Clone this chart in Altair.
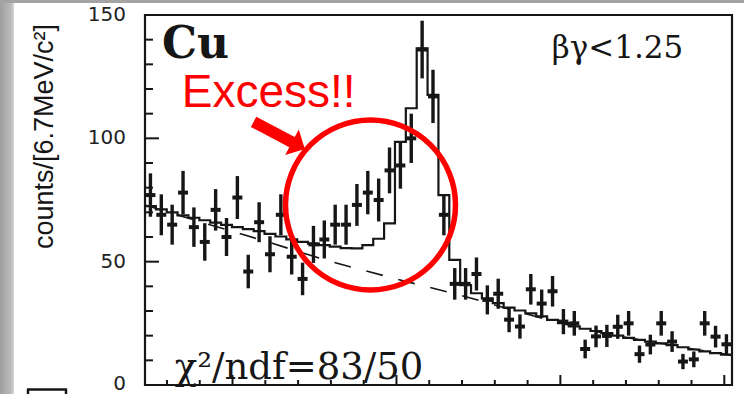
import altair as alt
import pandas as pd

# e+e- invariant mass binning (GeV/c^2)
MASS_LO = 0.8466
MASS_HI = 1.2047
BIN_W = 0.00663

# Observed counts per mass bin and their statistical errors
counts = [77, 69, 65, 78, 64, 58, 71, 60, 76, 46,
          66, 53, 69, 52, 43, 57, 59, 65, 65, 73,
          78, 75, 87, 89, 100, 136, 117, 69, 41, 41,
          45, 34.5, 37, 26.5, 23.7, 38.8, 33, 38, 25.7, 25,
          14.6, 19.7, 19.9, 23.6, 25, 12.5, 16.4, 25, 17.6, 9.5,
          10.4, 25, 19.6, 16.5]
errors = [8.8, 8.3, 8.1, 8.8, 8.0, 7.6, 8.4, 7.7, 8.7, 6.8,
          8.1, 7.3, 8.3, 7.2, 6.6, 7.5, 7.7, 8.1, 8.1, 8.5,
          8.8, 8.7, 9.3, 9.4, 10.0, 11.7, 10.8, 8.3, 6.4, 6.4,
          6.7, 5.9, 6.1, 5.1, 4.9, 6.2, 5.7, 6.2, 5.1, 5.0,
          3.8, 4.4, 4.5, 4.9, 5.0, 3.5, 4.0, 5.0, 4.2, 3.1,
          3.2, 5.0, 4.4, 4.1]

# Fitted expectation per bin (phi shape + background)
fit = [72.5, 71.2, 70, 68.8, 67.8, 66.8, 65.8, 64.9, 64, 63.2,
       62.4, 61.3, 60.2, 59, 58, 57.3, 56.7, 56.1, 55.5, 55.4,
       56.7, 59.3, 65.5, 98.6, 112.2, 136.5, 117.6, 77, 50.7, 40.5,
       37.2, 35.1, 33.2, 31.4, 30.2, 29, 27.8, 26.4, 25.1, 23.8,
       22.8, 21.9, 21, 20, 19.1, 18.3, 17.6, 16.9, 16.2, 15.3,
       14.4, 13.6, 12.9, 12.3]

# Background component of the fit
bg_mass = [0.8466, 0.88, 0.92, 0.96, 1.00, 1.04, 1.08, 1.12, 1.16, 1.2047]
bg_vals = [73, 66.2, 58.3, 50.1, 43, 36.2, 28.7, 21.9, 17, 12]

# Axis ticks (drawn pointing inward) and y tick labels
y_major = [0, 50, 100, 150]
y_minor = [10, 20, 30, 40, 60, 70, 80, 90, 110, 120, 130, 140]
x_major = [0.9, 1.0, 1.1, 1.2]
x_minor = [0.86, 0.88, 0.92, 0.94, 0.96, 0.98, 1.02, 1.04, 1.06, 1.08,
           1.12, 1.14, 1.16, 1.18]
y_label_vals = [50, 100, 150]
y_labels = ["50", "100", "150"]

W, H = 587, 370
INK = "#161616"
RED = "#ff0000"

centers = [MASS_LO + BIN_W * (i + 0.5) for i in range(len(counts))]
pts = pd.DataFrame({
    "m": centers,
    "n": counts,
    "lo": [c - e for c, e in zip(counts, errors)],
    "hi": [c + e for c, e in zip(counts, errors)],
})
edges = [MASS_LO + BIN_W * i for i in range(len(fit) + 1)]
step_df = pd.DataFrame({"m": edges, "f": fit + [fit[-1]]})
bg_df = pd.DataFrame({"m": bg_mass, "b": bg_vals})
one = pd.DataFrame({"k": [0]})

xs = alt.Scale(domain=[MASS_LO, MASS_HI], nice=False, zero=False)
ys = alt.Scale(domain=[0, 150], nice=False, zero=True)

# page decorations: grey strip along the top and grey band at the far left
top_strip = alt.Chart(one).mark_rect(color="#a4a4a4").encode(
    x=alt.value(-145), x2=alt.value(W + 12), y=alt.value(-15), y2=alt.value(-12))
left_band = alt.Chart(one).mark_rect(
    color=alt.LinearGradient(
        gradient="linear",
        stops=[alt.GradientStop(color="#9e9e9e", offset=0),
               alt.GradientStop(color="#bcbcbc", offset=0.8),
               alt.GradientStop(color="#d8d8d8", offset=1)],
        x1=0, x2=1, y1=0, y2=0)
).encode(x=alt.value(-145), x2=alt.value(-131), y=alt.value(-12), y2=alt.value(H + 9))

# piece of a bracket at the lower left edge
brk_h = alt.Chart(one).mark_rule(color=INK, strokeWidth=2.5).encode(
    x=alt.value(-118), x2=alt.value(-78), y=alt.value(374.5))
brk_l = alt.Chart(one).mark_rule(color=INK, strokeWidth=2.5).encode(
    x=alt.value(-117), y=alt.value(374), y2=alt.value(380))
brk_r = alt.Chart(one).mark_rule(color=INK, strokeWidth=2.5).encode(
    x=alt.value(-79), y=alt.value(374), y2=alt.value(380))

# inward ticks
ytick_major = alt.Chart(pd.DataFrame({"t": y_major})).mark_rule(color=INK, strokeWidth=2).encode(
    y=alt.Y("t:Q", scale=ys, axis=None), x=alt.value(0), x2=alt.value(14))
ytick_minor = alt.Chart(pd.DataFrame({"t": y_minor})).mark_rule(color=INK, strokeWidth=2).encode(
    y=alt.Y("t:Q", scale=ys, axis=None), x=alt.value(0), x2=alt.value(8))
xtick_major = alt.Chart(pd.DataFrame({"t": x_major})).mark_rule(color=INK, strokeWidth=2).encode(
    x=alt.X("t:Q", scale=xs, axis=None), y=alt.value(H), y2=alt.value(H - 10))
xtick_minor = alt.Chart(pd.DataFrame({"t": x_minor})).mark_rule(color=INK, strokeWidth=2).encode(
    x=alt.X("t:Q", scale=xs, axis=None), y=alt.value(H), y2=alt.value(H - 5))

# y tick labels; the zero label sits on the lower edge of the page
ylab = alt.Chart(pd.DataFrame({"t": y_label_vals, "s": y_labels})).mark_text(
    font="DejaVu Sans", fontSize=20, color="#222222", align="right", baseline="middle"
).encode(y=alt.Y("t:Q", scale=ys, axis=None), x=alt.value(-19), text="s:N")
ylab0 = alt.Chart(one).mark_text(
    text="0", font="DejaVu Sans", fontSize=20, color="#222222", align="right", baseline="bottom"
).encode(y=alt.value(H + 9), x=alt.value(-19))

# background (dashed) and full fit (histogram)
bg_line = alt.Chart(bg_df).mark_line(color=INK, strokeWidth=1.6, strokeDash=[17, 16],
                                     interpolate="monotone").encode(
    x=alt.X("m:Q", scale=xs, axis=None), y=alt.Y("b:Q", scale=ys, axis=None))
fit_line = alt.Chart(step_df).mark_line(color=INK, strokeWidth=2.2, interpolate="step-after").encode(
    x=alt.X("m:Q", scale=xs, axis=None), y=alt.Y("f:Q", scale=ys, axis=None))

# data points with error bars
err = alt.Chart(pts).mark_rule(color=INK, strokeWidth=3.4).encode(
    x=alt.X("m:Q", scale=xs, axis=None),
    y=alt.Y("lo:Q", scale=ys, axis=None),
    y2="hi:Q")
cross = alt.Chart(pts).mark_tick(color=INK, orient="horizontal", size=10, thickness=4,
                                 opacity=1).encode(
    x=alt.X("m:Q", scale=xs, axis=None), y=alt.Y("n:Q", scale=ys, axis=None))

# red annotation: circle, arrow and label
ring = alt.Chart(one).mark_point(shape="circle", size=170 * 170, filled=False, stroke=RED,
                                 strokeWidth=5.5, opacity=1).encode(
    x=alt.value(225.5), y=alt.value(190))
ARROW = "M-1,-0.2L0.5,-0.2L0.5,-0.5L1,0L0.5,0.5L0.5,0.2L-1,0.2Z"
arrow = alt.Chart(one).mark_point(shape=ARROW, size=58 * 58, filled=True, color=RED,
                                  strokeWidth=0, opacity=1, angle=28).encode(
    x=alt.value(134.2), y=alt.value(120.4))
excess = alt.Chart(one).mark_text(text="Excess!!", font="Liberation Sans", fontSize=46,
                                  color=RED, align="left", baseline="alphabetic").encode(
    x=alt.value(36.7), y=alt.value(91.7))

# labels inside the frame
cu = alt.Chart(one).mark_text(text="Cu", font="DejaVu Serif", fontWeight="bold", fontSize=44,
                              color=INK, align="left", baseline="alphabetic").encode(
    x=alt.value(17), y=alt.value(43.3))
cut = alt.Chart(one).mark_text(text="βγ<1.25", font="DejaVu Serif", fontSize=31,
                               color=INK, align="center", baseline="alphabetic").encode(
    x=alt.value(472.5), y=alt.value(43.3))
chi = alt.Chart(one).mark_text(text="χ²/ndf=83/50", font="DejaVu Serif", fontSize=37,
                               color=INK, align="center", baseline="alphabetic").encode(
    x=alt.value(154), y=alt.value(363.6))

# y axis title
ytitle = alt.Chart(one).mark_text(text="counts/[6.7MeV/c²]", font="Liberation Sans", fontSize=27,
                                  angle=270, color=INK, align="center",
                                  baseline="alphabetic").encode(
    x=alt.value(-91.7), y=alt.value(121.5))

chart = alt.layer(
    top_strip, left_band, brk_h, brk_l, brk_r,
    ytick_major, ytick_minor, xtick_major, xtick_minor, ylab, ylab0,
    bg_line, fit_line, err, cross,
    ring, arrow, excess, cu, cut, chi, ytitle,
).properties(
    width=W, height=H,
    autosize=alt.AutoSizeParams(type="none"),
    padding={"left": 145, "top": 15, "right": 12, "bottom": 9},
    background="white",
).configure_view(
    stroke=INK, strokeWidth=2.2
)

chart.save("out.html", embed_options={"renderer": "svg", "actions": False})
